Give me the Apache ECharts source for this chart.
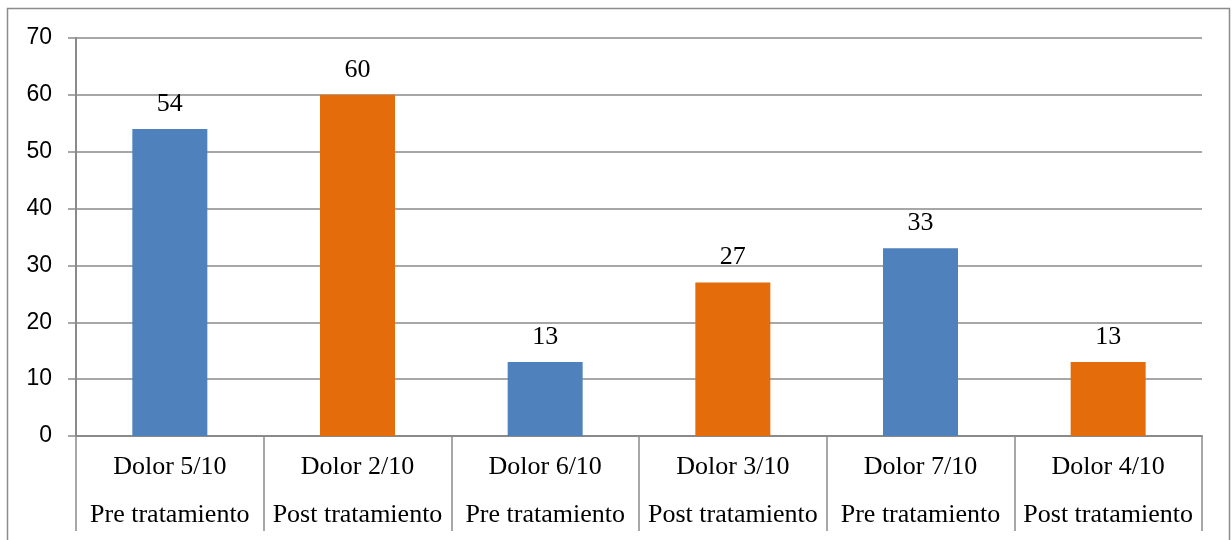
<!DOCTYPE html>
<html>
<head>
<meta charset="utf-8">
<script src="https://cdn.jsdelivr.net/npm/echarts@6/dist/echarts.min.js"></script>
<style>html,body{margin:0;padding:0;background:#fff}#c{width:1232px;height:540px}</style>
</head>
<body>
<div id="c"></div>
<script>
const painLevels = ["Dolor 5/10", "Dolor 2/10", "Dolor 6/10", "Dolor 3/10", "Dolor 7/10", "Dolor 4/10"];
const phases = ["Pre tratamiento", "Post tratamiento", "Pre tratamiento", "Post tratamiento", "Pre tratamiento", "Post tratamiento"];
const values = [54, 60, 13, 27, 33, 13];
const yTicks = [0, 10, 20, 30, 40, 50, 60, 70];

const phaseColor = { "Pre tratamiento": "#4F81BD", "Post tratamiento": "#E46C0A" };
const categories = painLevels.map((p, i) => p + "\n" + phases[i]);

const chart = echarts.init(document.getElementById('c'), null, { renderer: 'canvas' });
chart.setOption({
  animation: false,
  graphic: [{
    type: 'rect',
    shape: { x: 7.5, y: 8.5, width: 1222, height: 560 },
    style: { fill: 'none', stroke: '#8c8c8c', lineWidth: 1.5 },
    silent: true
  }],
  grid: { left: 76, right: 30, top: 38, bottom: 104, containLabel: false },
  xAxis: {
    type: 'category',
    data: categories,
    boundaryGap: true,
    axisLine: { show: true, lineStyle: { color: '#8a8a8a', width: 2 } },
    axisTick: { show: true, interval: 0, length: 95, lineStyle: { color: '#8a8a8a', width: 1.5 } },
    axisLabel: {
      interval: 0, margin: 7, color: '#000',
      fontFamily: 'Liberation Serif', fontSize: 26, lineHeight: 48
    }
  },
  yAxis: {
    type: 'value',
    min: yTicks[0], max: yTicks[yTicks.length - 1], interval: 10,
    axisLine: { show: true, lineStyle: { color: '#8a8a8a', width: 2 } },
    axisTick: { show: true, length: 8, lineStyle: { color: '#8a8a8a', width: 1.5 } },
    axisLabel: { margin: 24, color: '#000', fontFamily: 'Liberation Sans', fontSize: 23 },
    splitLine: { show: true, lineStyle: { color: '#8a8a8a', width: 1.5 } }
  },
  series: [{
    type: 'bar',
    barWidth: 75,
    data: values.map((v, i) => ({ value: v, itemStyle: { color: phaseColor[phases[i]] } })),
    label: {
      show: true, position: 'top', distance: 12, color: '#000',
      fontFamily: 'Liberation Serif', fontSize: 26
    }
  }]
});
</script>
</body>
</html>
